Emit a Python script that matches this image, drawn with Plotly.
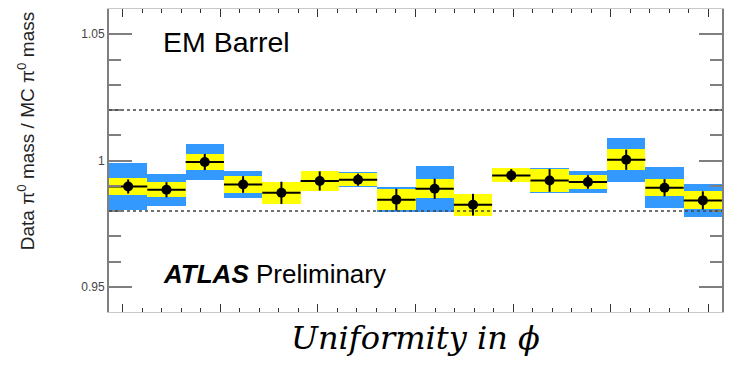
import math
import plotly.graph_objects as go

# Ratio of fitted pi0 mass (data / MC) in 16 phi bins of the EM barrel
n_bins = 16
phi_edges = [-math.pi + i * 2 * math.pi / n_bins for i in range(n_bins + 1)]
phi_centers = [(a + b) / 2 for a, b in zip(phi_edges[:-1], phi_edges[1:])]
bin_half_width = math.pi / n_bins

ratio = [0.9897, 0.9884, 0.9994, 0.9905, 0.9872, 0.9919, 0.9924, 0.9845,
         0.9888, 0.9825, 0.9941, 0.9921, 0.9915, 1.0003, 0.9892, 0.9842]
stat_err = [0.0028, 0.0030, 0.0032, 0.0033, 0.0044, 0.0038, 0.0024, 0.0043,
            0.0040, 0.0043, 0.0025, 0.0045, 0.0027, 0.0040, 0.0034, 0.0036]
band_inner = [0.0032, 0.0030, 0.0032, 0.0035, 0.0044, 0.0038, 0.0026, 0.0043,
              0.0037, 0.0043, 0.0028, 0.0046, 0.0028, 0.0041, 0.0034, 0.0036]
band_outer = [0.0094, 0.0063, 0.0070, 0.0055, 0.0040, 0.0035, 0.0030, 0.0050,
              0.0091, 0.0040, 0.0025, 0.0049, 0.0043, 0.0087, 0.0082, 0.0064]

y_ticks = [0.95, 1.0, 1.05]
y_tick_text = ["0.95", "1", "1.05"]
x_major_ticks = [-3, -2, -1, 0, 1, 2, 3]
ref_lines = [0.98, 1.02]

BLUE = "#3399ff"
YELLOW = "#ffff00"
AXIS = "#7f7f7f"

fig = go.Figure()

fig.add_trace(go.Bar(
    x=phi_centers,
    y=[2 * e for e in band_outer],
    base=[r - e for r, e in zip(ratio, band_outer)],
    width=2 * bin_half_width,
    marker=dict(color=BLUE, line=dict(width=0)),
    showlegend=False, hoverinfo="skip",
))
fig.add_trace(go.Bar(
    x=phi_centers,
    y=[2 * e for e in band_inner],
    base=[r - e for r, e in zip(ratio, band_inner)],
    width=2 * bin_half_width,
    marker=dict(color=YELLOW, line=dict(width=0)),
    showlegend=False, hoverinfo="skip",
))
fig.add_trace(go.Scatter(
    x=phi_centers, y=ratio, mode="markers",
    marker=dict(color="black", size=10),
    error_x=dict(type="constant", value=bin_half_width, color="black",
                 thickness=2, width=0),
    error_y=dict(type="data", array=stat_err, color="black",
                 thickness=2, width=0),
    showlegend=False,
))

for yv in ref_lines:
    fig.add_shape(type="line", xref="paper", x0=0, x1=1, yref="y", y0=yv, y1=yv,
                  line=dict(color="#444444", width=1.5, dash="dot"), layer="above")

fig.update_layout(
    width=731, height=368,
    margin=dict(l=109, r=7, t=9, b=56),
    paper_bgcolor="white", plot_bgcolor="white",
    barmode="overlay", bargap=0,
    font=dict(family="Liberation Sans, Arial, sans-serif", color="black"),
    xaxis=dict(
        range=[-math.pi, math.pi],
        tickvals=x_major_ticks, showticklabels=False,
        ticks="inside", ticklen=8, tickwidth=1.2, tickcolor="#333333",
        minor=dict(dtick=0.2, tick0=0, ticks="inside", ticklen=4,
                   tickwidth=1, tickcolor="#333333"),
        showline=True, linecolor="#c8c8c8", linewidth=1, mirror="ticks",
        showgrid=False, zeroline=False,
    ),
    yaxis=dict(
        range=[0.94, 1.06],
        tickvals=y_ticks, ticktext=y_tick_text,
        tickfont=dict(size=12, color="#444444"),
        ticks="inside", ticklen=23, tickwidth=1.5, tickcolor=AXIS,
        minor=dict(dtick=0.01, tick0=0.94, ticks="inside", ticklen=12,
                   tickwidth=1.5, tickcolor=AXIS),
        showline=True, linecolor=AXIS, linewidth=2, mirror="ticks",
        showgrid=False, zeroline=False,
    ),
    annotations=[
        dict(text="Data \u03c0<sup>0</sup> mass / MC \u03c0<sup>0</sup> mass",
             xref="paper", yref="paper", x=(26 - 109) / 615, y=(312 - 131) / 303,
             textangle=-90, showarrow=False, xanchor="center", yanchor="middle",
             font=dict(size=19, color="#222222")),
        dict(text="EM Barrel", xref="paper", yref="paper",
             x=(161 - 109) / 615, y=(312 - 42) / 303,
             xanchor="left", yanchor="middle", showarrow=False,
             font=dict(size=28.5, color="black")),
        dict(text="<b><i>ATLAS</i></b> Preliminary", xref="paper", yref="paper",
             x=(161 - 109) / 615, y=(312 - 274) / 303,
             xanchor="left", yanchor="middle", showarrow=False,
             font=dict(size=26, color="black")),
        dict(text="<i>Uniformity in \u03d5</i>", xref="paper", yref="paper",
             x=0.5, y=-(338 - 312) / 303,
             xanchor="center", yanchor="middle", showarrow=False,
             font=dict(size=32, family="DejaVu Serif, serif", color="black")),
    ],
)

fig.write_html("out.html")
